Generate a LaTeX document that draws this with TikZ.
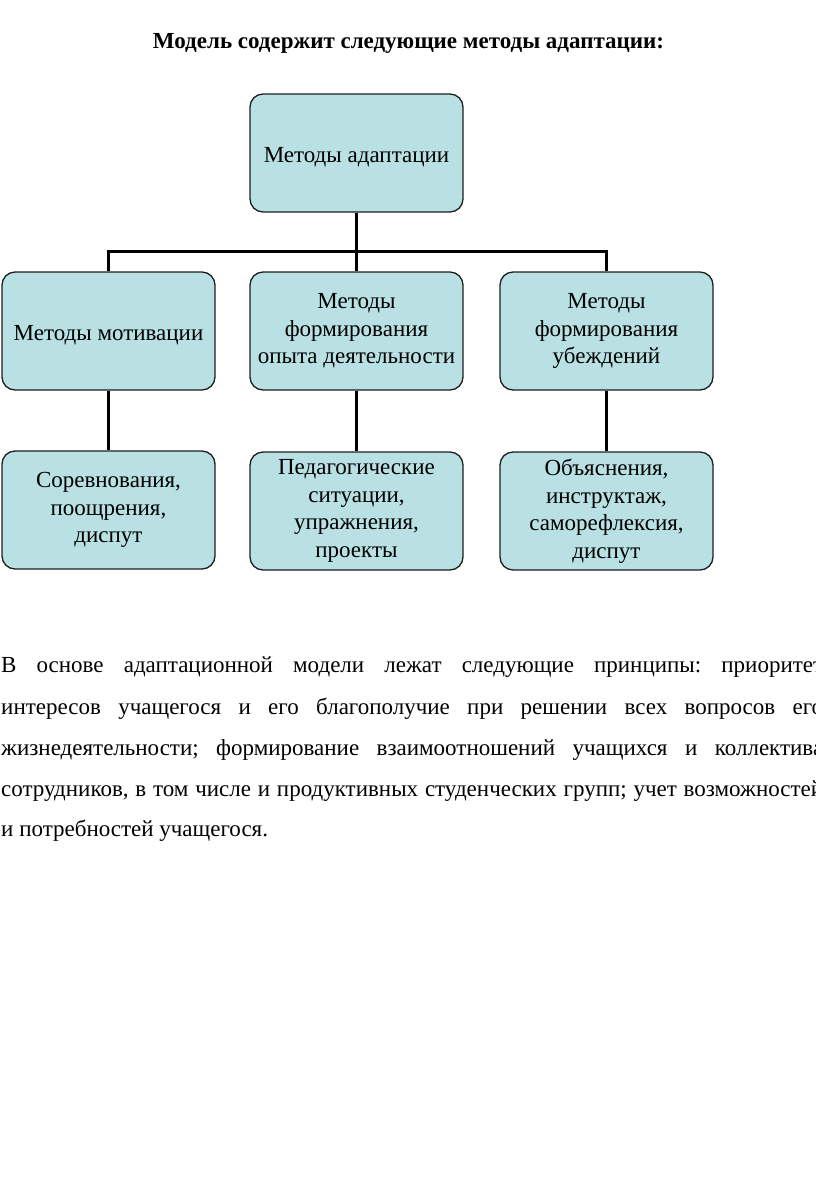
\documentclass[tikz,border=0pt]{standalone}
\usepackage{fontspec}
\setmainfont{Liberation Serif}
\frenchspacing
\definecolor{boxfill}{RGB}{185,224,226}
\definecolor{boxline}{RGB}{30,30,30}
\newcommand{\lowertext}[1]{\raisebox{0pt}[\dimexpr\height+8pt\relax][\depth]{#1}}
\tikzset{
  mbox/.style={draw=boxline, line width=1.3pt, fill=boxfill, rounded corners=13pt,
    minimum width=213pt, minimum height=118pt, inner sep=0pt, align=center,
    font=\fontsize{23}{27.5}\selectfont},
  conn/.style={draw=black, line width=3.5pt},
  para/.style={anchor=base west, inner sep=0pt, font=\fontsize{23}{27}\selectfont}
}
\begin{document}
\begin{tikzpicture}[x=1pt,y=-1pt]
\useasboundingbox (0,0) rectangle (816,1195);
\node[font=\bfseries\fontsize{23}{27}\selectfont, inner sep=0pt] (title) at (408.5,43) {Модель содержит следующие методы адаптации:};

\node[mbox] (top) at (356.5,153) {\lowertext{Методы адаптации}};
\node[mbox] (m1) at (108.5,331) {\lowertext{Методы мотивации}};
\node[mbox] (m2) at (356.5,331) {Методы\\формирования\\опыта деятельности};
\node[mbox] (m3) at (606.5,331) {Методы\\формирования\\убеждений};
\node[mbox] (s1) at (108.5,510) {Соревнования,\\поощрения,\\диспут};
\node[mbox] (s2) at (356.5,511) {Педагогические\\ситуации,\\упражнения,\\проекты};
\node[mbox] (s3) at (606.5,511) {Объяснения,\\инструктаж,\\саморефлексия,\\диспут};

\coordinate (bus) at (356.5,251.5);
\draw[conn] (top.south) -- (m2.north);
\draw[conn] (m1.north) -- (m1.north |- bus) -- (m3.north |- bus) -- (m3.north);
\draw[conn] (m1.south) -- (s1.north);
\draw[conn] (m2.south) -- (s2.north);
\draw[conn] (m3.south) -- (s3.north);

\node[para] (p1) at (1,672.7) {\makebox[822pt][s]{В основе адаптационной модели лежат следующие принципы: приоритет}};
\node[para] (p2) at (1,714) {\makebox[822pt][s]{интересов учащегося и его благополучие при решении всех вопросов его}};
\node[para] (p3) at (1,755) {\makebox[822pt][s]{жизнедеятельности; формирование взаимоотношений учащихся и коллектива}};
\node[para] (p4) at (1,796.7) {\makebox[822pt][s]{сотрудников, в том числе и продуктивных студенческих групп; учет возможностей}};
\node[para] (p5) at (1,836.7) {и потребностей учащегося.};
\end{tikzpicture}
\end{document}
